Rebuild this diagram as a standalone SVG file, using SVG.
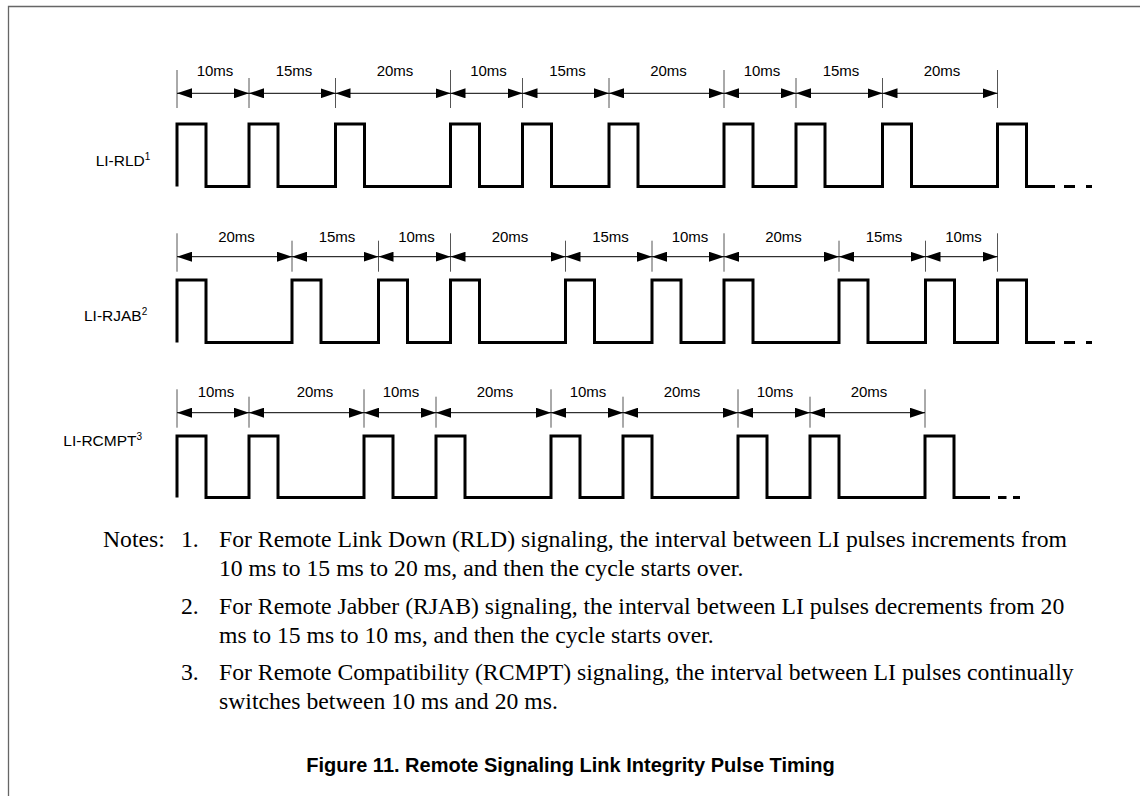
<svg xmlns="http://www.w3.org/2000/svg" width="1140" height="796" viewBox="0 0 1140 796">
<style>
.frame{stroke:#666;stroke-width:1.3;fill:none}
.sig{stroke:#000;stroke-width:3;fill:none;stroke-linejoin:miter;stroke-linecap:butt}
.dash{stroke:#000;stroke-width:3;fill:none}
.tick{stroke:#555;stroke-width:1;fill:none}
.dim{stroke:#000;stroke-width:1;fill:none;marker-start:url(#ah);marker-end:url(#ah)}
.lbl{font-family:"Liberation Sans",Arial,sans-serif;font-size:15px;fill:#000;text-anchor:middle}
.sname{font-family:"Liberation Sans",Arial,sans-serif;font-size:15.5px;fill:#000}
.sup{font-size:10px}
.note{font-family:"Liberation Serif","Times New Roman",serif;font-size:23.7px;fill:#000}
.cap{font-family:"Liberation Sans",Arial,sans-serif;font-size:20px;font-weight:bold;fill:#000;text-anchor:middle}
</style>
<defs>
<marker id="ah" viewBox="0 0 15 10" refX="15" refY="5" markerWidth="15" markerHeight="10" markerUnits="userSpaceOnUse" orient="auto-start-reverse">
<path d="M0,0 L15,5 L0,10 z" fill="#000"/>
</marker>
</defs>
<rect width="1140" height="796" fill="#fff"/>
<g id="frame">
<path class="frame" d="M8.5,796 V6.5 H1140"/>
</g>

<g id="row-rld">
<text class="sname" x="95.7" y="165.5">LI-RLD<tspan class="sup" dy="-6">1</tspan></text>
<path class="sig" d="M177,186.5 V124 H206 V186.5 H249 V124 H278 V186.5 H335.5 V124 H364.5 V186.5 H450.5 V124 H479.5 V186.5 H522.5 V124 H551.5 V186.5 H609 V124 H638 V186.5 H724 V124 H753 V186.5 H796 V124 H825 V186.5 H882.5 V124 H911.5 V186.5 H997.5 V124 H1026.5 V186.5 H1055"/>
<path class="dash" d="M1064,186.5 H1075 M1086,186.5 H1092"/>
<g class="lblg">
<text class="lbl" x="215" y="76">10ms</text>
<text class="lbl" x="294" y="76">15ms</text>
<text class="lbl" x="395" y="76">20ms</text>
<text class="lbl" x="488.5" y="76">10ms</text>
<text class="lbl" x="567.5" y="76">15ms</text>
<text class="lbl" x="668.5" y="76">20ms</text>
<text class="lbl" x="762" y="76">10ms</text>
<text class="lbl" x="841" y="76">15ms</text>
<text class="lbl" x="942" y="76">20ms</text>
</g>
</g>

<g id="row-rjab">
<text class="sname" x="84" y="321">LI-RJAB<tspan class="sup" dy="-6">2</tspan></text>
<path class="sig" d="M177,342.5 V280 H206 V342.5 H292 V280 H321 V342.5 H378.5 V280 H407.5 V342.5 H450.5 V280 H479.5 V342.5 H565.5 V280 H594.5 V342.5 H652 V280 H681 V342.5 H724 V280 H753 V342.5 H839 V280 H868 V342.5 H925.5 V280 H954.5 V342.5 H997.5 V280 H1026.5 V342.5 H1055"/>
<path class="dash" d="M1064,342.5 H1075 M1086,342.5 H1092"/>
<g class="lblg">
<text class="lbl" x="236.5" y="241.7">20ms</text>
<text class="lbl" x="337" y="241.7">15ms</text>
<text class="lbl" x="416.5" y="241.7">10ms</text>
<text class="lbl" x="510" y="241.7">20ms</text>
<text class="lbl" x="610.5" y="241.7">15ms</text>
<text class="lbl" x="690" y="241.7">10ms</text>
<text class="lbl" x="783.5" y="241.7">20ms</text>
<text class="lbl" x="884" y="241.7">15ms</text>
<text class="lbl" x="963.5" y="241.7">10ms</text>
</g>
</g>

<g id="row-rcmpt">
<text class="sname" x="63.3" y="445.7">LI-RCMPT<tspan class="sup" dy="-6">3</tspan></text>
<path class="sig" d="M177,497.5 V436 H206 V497.5 H249 V436 H278 V497.5 H364 V436 H393 V497.5 H436 V436 H465 V497.5 H551 V436 H580 V497.5 H623 V436 H652 V497.5 H738 V436 H767 V497.5 H810 V436 H839 V497.5 H925 V436 H954 V497.5 H990"/>
<path class="dash" d="M998,497.5 H1006.5 M1013,497.5 H1020"/>
<g class="lblg">
<text class="lbl" x="216" y="397">10ms</text>
<text class="lbl" x="315" y="397">20ms</text>
<text class="lbl" x="401" y="397">10ms</text>
<text class="lbl" x="495" y="397">20ms</text>
<text class="lbl" x="588" y="397">10ms</text>
<text class="lbl" x="682" y="397">20ms</text>
<text class="lbl" x="775" y="397">10ms</text>
<text class="lbl" x="869" y="397">20ms</text>
</g>
</g>

<g id="connectors">
<g id="ticks">
<path class="tick" d="M177,70 V108 M249,78 V108 M335.5,78 V108 M450.5,70 V108 M522.5,78 V108 M609,78 V108 M724,70 V108 M796,78 V108 M882.5,78 V108 M997.5,70 V108"/>
<path class="tick" d="M177,233.3 V271.7 M292,240.7 V271.7 M378.5,240.7 V271.7 M450.5,233.3 V271.7 M565.5,240.7 V271.7 M652,240.7 V271.7 M724,233.3 V271.7 M839,240.7 V271.7 M925.5,240.7 V271.7 M997.5,233.3 V271.7"/>
<path class="tick" d="M177,389.3 V427.7 M249,396.7 V427.7 M364,389.3 V427.7 M436,396.7 V427.7 M551,389.3 V427.7 M623,396.7 V427.7 M738,389.3 V427.7 M810,396.7 V427.7 M925,389.3 V427.7"/>
</g>
<g id="dims-rld">
<line class="dim" x1="177" y1="93.3" x2="249" y2="93.3"/>
<line class="dim" x1="249" y1="93.3" x2="335.5" y2="93.3"/>
<line class="dim" x1="335.5" y1="93.3" x2="450.5" y2="93.3"/>
<line class="dim" x1="450.5" y1="93.3" x2="522.5" y2="93.3"/>
<line class="dim" x1="522.5" y1="93.3" x2="609" y2="93.3"/>
<line class="dim" x1="609" y1="93.3" x2="724" y2="93.3"/>
<line class="dim" x1="724" y1="93.3" x2="796" y2="93.3"/>
<line class="dim" x1="796" y1="93.3" x2="882.5" y2="93.3"/>
<line class="dim" x1="882.5" y1="93.3" x2="997.5" y2="93.3"/>
</g>
<g id="dims-rjab">
<line class="dim" x1="177" y1="256.7" x2="292" y2="256.7"/>
<line class="dim" x1="292" y1="256.7" x2="378.5" y2="256.7"/>
<line class="dim" x1="378.5" y1="256.7" x2="450.5" y2="256.7"/>
<line class="dim" x1="450.5" y1="256.7" x2="565.5" y2="256.7"/>
<line class="dim" x1="565.5" y1="256.7" x2="652" y2="256.7"/>
<line class="dim" x1="652" y1="256.7" x2="724" y2="256.7"/>
<line class="dim" x1="724" y1="256.7" x2="839" y2="256.7"/>
<line class="dim" x1="839" y1="256.7" x2="925.5" y2="256.7"/>
<line class="dim" x1="925.5" y1="256.7" x2="997.5" y2="256.7"/>
</g>
<g id="dims-rcmpt">
<line class="dim" x1="177" y1="412.7" x2="249" y2="412.7"/>
<line class="dim" x1="249" y1="412.7" x2="364" y2="412.7"/>
<line class="dim" x1="364" y1="412.7" x2="436" y2="412.7"/>
<line class="dim" x1="436" y1="412.7" x2="551" y2="412.7"/>
<line class="dim" x1="551" y1="412.7" x2="623" y2="412.7"/>
<line class="dim" x1="623" y1="412.7" x2="738" y2="412.7"/>
<line class="dim" x1="738" y1="412.7" x2="810" y2="412.7"/>
<line class="dim" x1="810" y1="412.7" x2="925" y2="412.7"/>
</g>
</g>

<g id="notes">
<text class="note" x="103" y="547">Notes:</text>
<text class="note" x="181" y="547">1.</text>
<text class="note" x="219" y="547">For Remote Link Down (RLD) signaling, the interval between LI pulses increments from</text>
<text class="note" x="219" y="576">10 ms to 15 ms to 20 ms, and then the cycle starts over.</text>
<text class="note" x="181" y="614">2.</text>
<text class="note" x="219" y="614">For Remote Jabber (RJAB) signaling, the interval between LI pulses decrements from 20</text>
<text class="note" x="219" y="643">ms to 15 ms to 10 ms, and then the cycle starts over.</text>
<text class="note" x="181" y="680">3.</text>
<text class="note" x="219" y="680">For Remote Compatibility (RCMPT) signaling, the interval between LI pulses continually</text>
<text class="note" x="219" y="709">switches between 10 ms and 20 ms.</text>
</g>

<g id="caption">
<text class="cap" x="570.5" y="772">Figure 11. Remote Signaling Link Integrity Pulse Timing</text>
</g>
</svg>
